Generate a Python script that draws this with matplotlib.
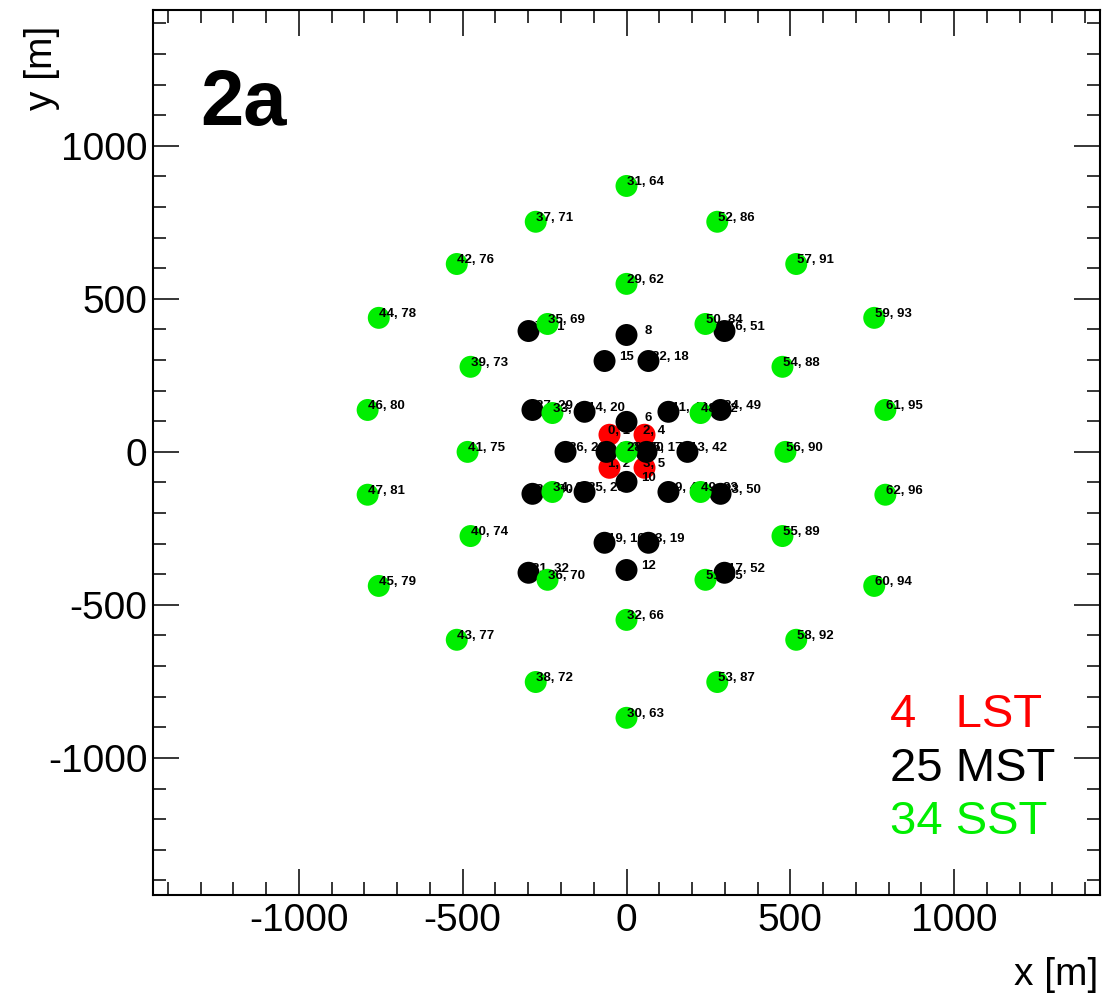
import matplotlib
matplotlib.use("Agg")
import matplotlib.pyplot as plt
from matplotlib.ticker import MultipleLocator

plt.rcParams["font.family"] = ["Liberation Sans", "DejaVu Sans"]
plt.rcParams["axes.unicode_minus"] = False

# LST (red)
lst_x = [-52, 55, -52, 55]
lst_y = [56, 56, -52, -52]
lst_lab = ["0, 1", "2, 4", "1, 2", "3, 5"]

# MST (black)
mst_x = [-299, 0, 299, -67, 67, -287, -128, 0, 128, 287, -186, -61, 61, 186,
         0, -128, -287, 128, 287, -67, 67, -299, 0, 299]
mst_y = [395, 382, 395, 297, 297, 137, 131, 98, 131, 137, 0, 0, 0, 0,
         -98, -131, -137, -131, -137, -297, -297, -395, -386, -395]
mst_lab = ["7, 21", "8", "16, 51", "15", "22, 18", "27, 29", "14, 20", "6",
           "11, 41", "24, 49", "26, 22", "4, 9", "5, 17", "13, 42", "10",
           "25, 23", "20, 30", "9, 44", "23, 50", "19, 16", "3, 19", "21, 32",
           "12", "17, 52"]

# SST (green)
sst_x = [0, -277, 277, -518, 518, 0, -756, 756, -241, 241, -476, 476, -790, 790,
         -226, 226, -485, 485, 0, -790, 790, -226, 226, -476, 476, -756, 756,
         -241, 241, 0, -518, 518, -277, 277, 0]
sst_y = [869, 752, 752, 614, 614, 549, 438, 438, 418, 418, 278, 278, 137, 137,
         127, 127, 0, 0, 0, -140, -140, -131, -131, -275, -275, -438, -438,
         -418, -418, -549, -614, -614, -752, -752, -869]
sst_lab = ["31, 64", "37, 71", "52, 86", "42, 76", "57, 91", "29, 62", "44, 78",
           "59, 93", "35, 69", "50, 84", "39, 73", "54, 88", "46, 80", "61, 95",
           "33, 67", "48, 82", "41, 75", "56, 90", "28, 60", "47, 81", "62, 96",
           "34, 68", "49, 83", "40, 74", "55, 89", "45, 79", "60, 94", "36, 70",
           "51, 85", "32, 66", "43, 77", "58, 92", "38, 72", "53, 87", "30, 63"]

legend_lines = ["4   LST", "25 MST", "34 SST"]
legend_colors = ["#ff0000", "#000000", "#00ee00"]

fig = plt.figure(figsize=(11.12, 9.94), dpi=100)
ax = fig.add_axes([153 / 1112, 1 - 895 / 994, 947 / 1112, 885 / 994])

msize = 250


def draw(xs, ys, labels, color, dx, z):
    ax.scatter(xs, ys, s=msize, c=color, edgecolors="none", zorder=z)
    for x, y, t in zip(xs, ys, labels):
        ax.annotate(t, (x, y), xytext=(dx, 3), textcoords="offset points",
                    ha="center", va="center", fontsize=9.5, fontweight="bold",
                    zorder=z + 0.5)


draw(lst_x, lst_y, lst_lab, "#ff0000", 7, 2)
draw(mst_x, mst_y, mst_lab, "#000000", 15.5, 3)
draw(sst_x, sst_y, sst_lab, "#00ee00", 13.5, 4)

ax.set_xlim(-1445, 1445)
ax.set_ylim(-1448, 1444)

ax.xaxis.set_major_locator(MultipleLocator(500))
ax.xaxis.set_minor_locator(MultipleLocator(100))
ax.yaxis.set_major_locator(MultipleLocator(500))
ax.yaxis.set_minor_locator(MultipleLocator(100))
ax.tick_params(which="both", direction="in", top=True, right=True, width=1.1)
ax.tick_params(which="major", length=19, labelsize=28)
ax.tick_params(which="minor", length=9.5)
ax.tick_params(axis="x", pad=6)
ax.tick_params(axis="y", pad=4)
for sp in ax.spines.values():
    sp.set_linewidth(1.5)

ax.text(0.0496, 0.87, "2a", transform=ax.transAxes, fontsize=56,
        fontweight="bold", va="baseline", ha="left")

for i, (t, c) in enumerate(zip(legend_lines, legend_colors)):
    ax.text(0.778, 0.203 - i * 0.0605, t, transform=ax.transAxes,
            fontsize=34, color=c, ha="left", va="center")

fig.text(1098 / 1112, 1 - 975 / 994, "x [m]", fontsize=28, ha="right", va="center")
fig.text(42 / 1112, 1 - 26 / 994, "y [m]", fontsize=28, rotation=90,
         ha="center", va="top")

fig.savefig("out.png", dpi=100)
